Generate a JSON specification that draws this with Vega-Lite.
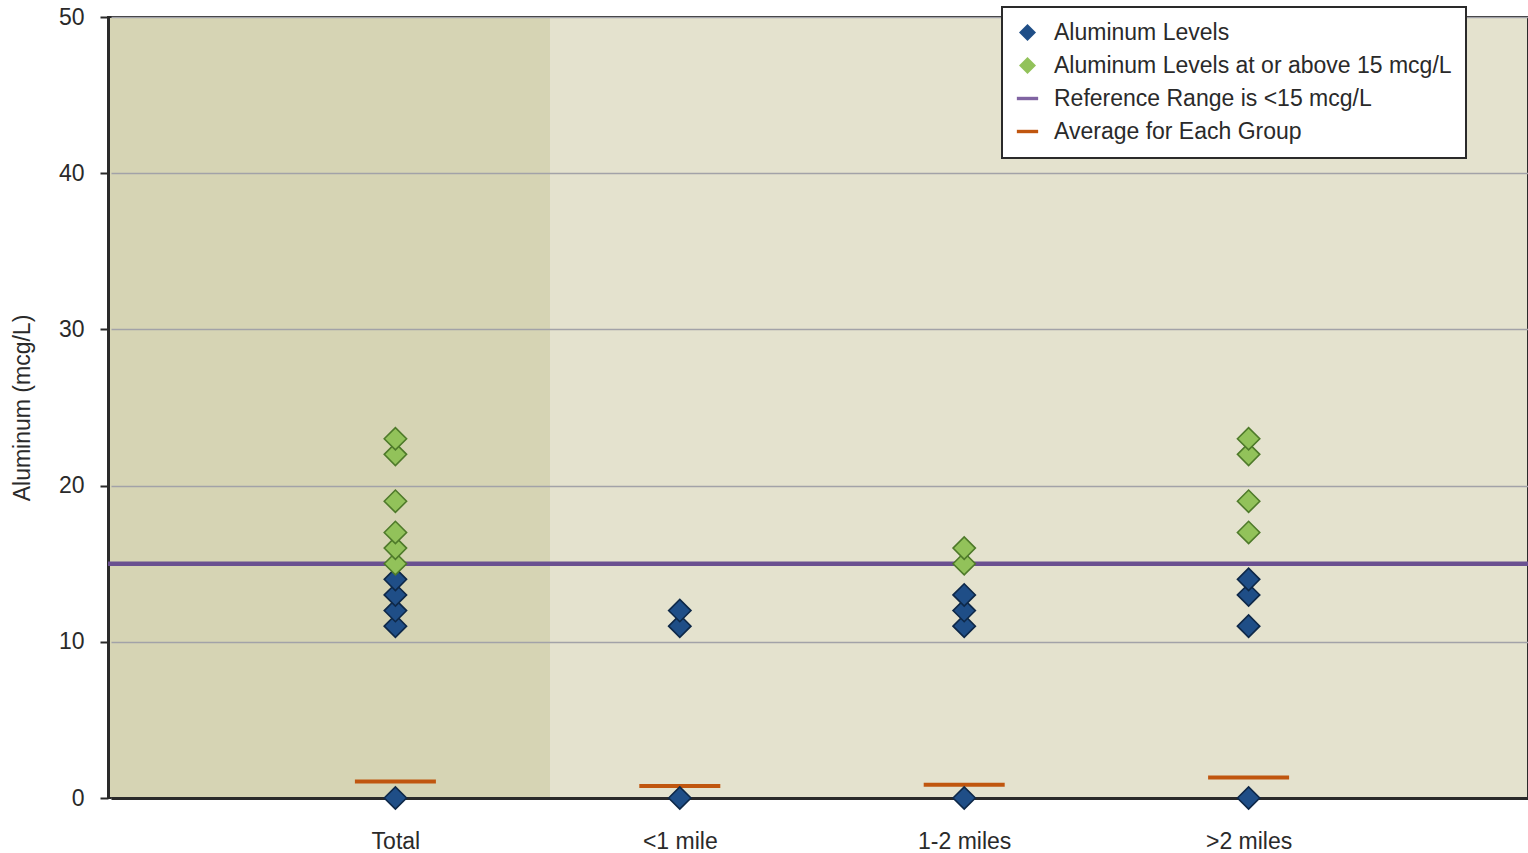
{
  "$schema": "https://vega.github.io/schema/vega-lite/v6.json",
  "width": 1420,
  "height": 781,
  "autosize": {"type": "none"},
  "padding": {"left": 108, "top": 17, "right": 0, "bottom": 55},
  "background": "white",
  "config": {
    "view": {
      "stroke": "#2a2a2a", "strokeWidth": 2,
      "fill": {
        "gradient": "linear", "x1": 0, "y1": 0, "x2": 1, "y2": 0,
        "stops": [
          {"offset": 0, "color": "#D6D4B4"},
          {"offset": 0.3113, "color": "#D6D4B4"},
          {"offset": 0.3114, "color": "#E4E2CE"},
          {"offset": 1, "color": "#E4E2CE"}
        ]
      }
    },
    "font": "Liberation Sans"
  },
  "datasets": {
    "points": [
      {"group": "Total", "aluminum": 0, "series": "Aluminum Levels"},
      {"group": "Total", "aluminum": 11, "series": "Aluminum Levels"},
      {"group": "Total", "aluminum": 12, "series": "Aluminum Levels"},
      {"group": "Total", "aluminum": 13, "series": "Aluminum Levels"},
      {"group": "Total", "aluminum": 14, "series": "Aluminum Levels"},
      {"group": "Total", "aluminum": 15, "series": "Aluminum Levels at or above 15 mcg/L"},
      {"group": "Total", "aluminum": 16, "series": "Aluminum Levels at or above 15 mcg/L"},
      {"group": "Total", "aluminum": 17, "series": "Aluminum Levels at or above 15 mcg/L"},
      {"group": "Total", "aluminum": 19, "series": "Aluminum Levels at or above 15 mcg/L"},
      {"group": "Total", "aluminum": 22, "series": "Aluminum Levels at or above 15 mcg/L"},
      {"group": "Total", "aluminum": 23, "series": "Aluminum Levels at or above 15 mcg/L"},
      {"group": "<1 mile", "aluminum": 0, "series": "Aluminum Levels"},
      {"group": "<1 mile", "aluminum": 11, "series": "Aluminum Levels"},
      {"group": "<1 mile", "aluminum": 12, "series": "Aluminum Levels"},
      {"group": "1-2 miles", "aluminum": 0, "series": "Aluminum Levels"},
      {"group": "1-2 miles", "aluminum": 11, "series": "Aluminum Levels"},
      {"group": "1-2 miles", "aluminum": 12, "series": "Aluminum Levels"},
      {"group": "1-2 miles", "aluminum": 13, "series": "Aluminum Levels"},
      {"group": "1-2 miles", "aluminum": 15, "series": "Aluminum Levels at or above 15 mcg/L"},
      {"group": "1-2 miles", "aluminum": 16, "series": "Aluminum Levels at or above 15 mcg/L"},
      {"group": ">2 miles", "aluminum": 0, "series": "Aluminum Levels"},
      {"group": ">2 miles", "aluminum": 11, "series": "Aluminum Levels"},
      {"group": ">2 miles", "aluminum": 13, "series": "Aluminum Levels"},
      {"group": ">2 miles", "aluminum": 14, "series": "Aluminum Levels"},
      {"group": ">2 miles", "aluminum": 17, "series": "Aluminum Levels at or above 15 mcg/L"},
      {"group": ">2 miles", "aluminum": 19, "series": "Aluminum Levels at or above 15 mcg/L"},
      {"group": ">2 miles", "aluminum": 22, "series": "Aluminum Levels at or above 15 mcg/L"},
      {"group": ">2 miles", "aluminum": 23, "series": "Aluminum Levels at or above 15 mcg/L"}
    ],
    "averages": [
      {"group": "Total", "average": 1.05},
      {"group": "<1 mile", "average": 0.77},
      {"group": "1-2 miles", "average": 0.85},
      {"group": ">2 miles", "average": 1.32}
    ]
  },
  "layer": [
    {
      "data": {"values": [{"ref": 15}]},
      "mark": {"type": "rule", "color": "#6A5090", "strokeWidth": 4.5},
      "encoding": {
        "y": {"field": "ref", "type": "quantitative", "scale": {"domain": [0, 50], "nice": false}}
      }
    },
    {
      "data": {"name": "averages"},
      "mark": {"type": "tick", "color": "#C0560F", "size": 81, "thickness": 4, "opacity": 1},
      "encoding": {
        "x": {"field": "group", "type": "nominal", "sort": null},
        "y": {"field": "average", "type": "quantitative"}
      }
    },
    {
      "data": {"name": "points"},
      "mark": {"type": "point", "filled": true, "size": 500, "strokeWidth": 1.6, "opacity": 1},
      "encoding": {
        "x": {
          "field": "group", "type": "nominal", "sort": null,
          "scale": {"type": "point", "domain": ["Total", "<1 mile", "1-2 miles", ">2 miles"], "padding": 1, "range": [3, 1425]},
          "axis": {
            "title": null, "labelAngle": 0, "labelAlign": "center", "ticks": false, "tickSize": 0,
            "labelPadding": 43, "labelFontSize": 23, "labelColor": "#2a2a2a",
            "labelFont": "Liberation Sans",
            "domainColor": "#2a2a2a", "domainWidth": 3, "grid": false
          }
        },
        "y": {
          "field": "aluminum", "type": "quantitative",
          "axis": {
            "title": "Aluminum (mcg/L)", "titleFontSize": 23, "titleFontWeight": "normal",
            "titleColor": "#2a2a2a", "titleFont": "Liberation Sans", "titlePadding": 24,
            "values": [0, 10, 20, 30, 40, 50], "grid": true, "gridColor": "#A2A2A8", "gridWidth": 1.5,
            "tickSize": 8, "tickColor": "#2a2a2a", "tickWidth": 2,
            "labelPadding": 16, "labelFontSize": 23, "labelColor": "#2a2a2a",
            "labelFont": "Liberation Sans",
            "domainColor": "#2a2a2a", "domainWidth": 3
          }
        },
        "fill": {
          "field": "series", "type": "nominal",
          "scale": {
            "domain": ["Aluminum Levels", "Aluminum Levels at or above 15 mcg/L", "Reference Range is <15 mcg/L", "Average for Each Group"],
            "range": ["#1F4E87", "#92C25A", "#8064A2", "#C0560F"]
          },
          "legend": {
            "title": null, "orient": "none", "legendX": 894, "legendY": -10,
            "fillColor": "white", "strokeColor": "#2a2a2a",
            "padding": 14, "labelFontSize": 23, "labelColor": "#2a2a2a",
            "labelFont": "Liberation Sans", "labelLimit": 600,
            "symbolSize": 290, "symbolStrokeWidth": 0, "labelOffset": 15,
            "rowPadding": 9, "symbolOpacity": 1,
            "encode": {"legend": {"update": {"strokeWidth": {"value": 2}}}}
          }
        },
        "shape": {
          "field": "series", "type": "nominal",
          "scale": {
            "domain": ["Aluminum Levels", "Aluminum Levels at or above 15 mcg/L", "Reference Range is <15 mcg/L", "Average for Each Group"],
            "range": ["diamond", "diamond", "M-1.25,-0.2H1.25V0.2H-1.25Z", "M-1.25,-0.2H1.25V0.2H-1.25Z"]
          }
        },
        "stroke": {
          "field": "series", "type": "nominal",
          "scale": {
            "domain": ["Aluminum Levels", "Aluminum Levels at or above 15 mcg/L"],
            "range": ["#0E2848", "#4E7A2A"]
          },
          "legend": null
        }
      }
    }
  ]
}
